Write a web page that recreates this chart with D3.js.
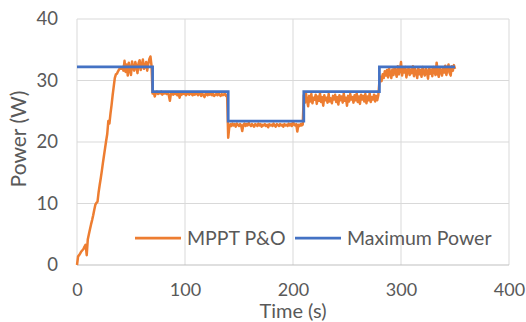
<!DOCTYPE html>
<html>
<head>
<meta charset="utf-8">
<script src="https://cdn.jsdelivr.net/npm/d3@7"></script>
<style>
  html, body { margin: 0; padding: 0; background: #fff; }
  text { font-family: Lato, "Open Sans", sans-serif; fill: #595959; }
</style>
</head>
<body>
<div id="chart"></div>
<script>
// x ticks / y ticks
const xTicks = [0, 100, 200, 300, 400];
const yTicks = [0, 10, 20, 30, 40];

// Maximum power reference (step levels)
const maxTimes = [0, 70, 140, 210, 280, 350];
const maxPower = [32.2, 28.2, 23.4, 28.2, 32.2, 32.2];

// MPPT P&O power, one sample per second from t = 0 s
const mpptStart = 0;
const mpptStep = 1;
const mpptPower = [
  // 0-43 ramp
  0, 1.4, 1.6, 1.9, 2.2, 2.4, 2.6, 3.0, 3.3, 1.6,
  4.2, 5.0, 5.8, 6.6, 7.3, 8.1, 9.0, 9.8, 10.1, 10.3,
  11.8, 13.0, 14.1, 15.3, 16.6, 17.8, 19.0, 20.2, 21.3, 23.4,
  23.0, 24.6, 26.0, 27.6, 29.0, 30.4, 31.0, 31.1, 31.5, 31.8,
  32.0, 31.9, 32.2, 31.6,
  // 44-69
  33.2, 31.4, 32.6, 30.8, 32.9, 31.8, 30.9, 33.1, 32.0, 31.6,
  33.0, 32.3, 31.2, 32.8, 33.3, 31.7, 32.5, 33.4, 31.9, 32.2,
  33.0, 31.6, 32.7, 33.5, 33.9, 32.4,
  // 70-139
  27.9, 28.1, 27.4, 28.0, 28.2, 27.8, 28.0, 27.9, 28.2, 27.7,
  28.0, 27.9, 28.1, 27.8, 28.0, 27.6, 26.7, 27.9, 28.0, 27.7,
  28.1, 27.8, 27.9, 27.6, 28.0, 27.2, 27.9, 27.7, 28.0, 27.8,
  27.9, 27.6, 28.0, 27.8, 27.7, 28.1, 27.8, 27.6, 27.9, 27.7,
  27.8, 28.0, 27.6, 27.8, 27.9, 27.5, 27.8, 27.7, 27.3, 27.8,
  27.9, 27.6, 27.8, 27.7, 28.0, 27.6, 27.8, 27.5, 27.7, 27.8,
  27.6, 27.9, 27.7, 27.5, 27.8, 27.6, 27.7, 27.9, 27.5, 27.6,
  // 140-209
  20.7, 22.4, 22.9, 22.6, 23.0, 22.7, 22.9, 22.5, 23.0, 22.8,
  22.6, 22.9, 22.7, 21.8, 22.8, 23.0, 22.6, 22.9, 22.7, 23.1,
  22.8, 22.6, 22.9, 22.7, 22.5, 22.9, 22.8, 22.6, 23.0, 22.7,
  22.9, 22.5, 22.8, 22.7, 22.9, 22.6, 22.8, 22.4, 22.9, 22.7,
  22.8, 22.6, 23.0, 22.7, 22.5, 22.9, 22.8, 22.6, 22.9, 22.7,
  22.8, 22.5, 22.9, 22.7, 22.8, 22.6, 23.0, 22.7, 22.9, 22.6,
  23.3, 22.8, 22.7, 22.9, 21.7, 22.8, 22.6, 22.9, 22.7, 22.8,
  // 210-279
  27.6, 26.4, 27.9, 26.8, 25.8, 27.5, 26.6, 27.8, 26.3, 27.2,
  26.9, 27.7, 26.2, 27.4, 26.7, 27.9, 26.5, 27.3, 25.9, 27.6,
  26.8, 27.2, 26.4, 27.8, 26.6, 27.1, 26.3, 27.5, 26.9, 27.7,
  26.5, 27.3, 26.1, 27.6, 26.8, 27.4, 26.4, 27.9, 26.7, 27.2,
  25.9, 27.5, 26.6, 27.8, 26.9, 27.3, 26.4, 27.6, 26.8, 27.9,
  26.5, 27.4, 26.2, 27.7, 26.9, 27.5, 26.6, 27.8, 26.3, 27.4,
  26.8, 27.9, 26.5, 27.3, 26.9, 27.7, 26.6, 27.5, 26.8, 27.6,
  // 280-350
  29.8, 30.6, 29.9, 31.0, 30.4, 31.5, 30.8, 31.7, 30.5, 32.0,
  31.2, 30.4, 31.8, 30.9, 32.1, 31.4, 30.6, 32.3, 31.0, 31.7,
  33.0, 30.8, 31.9, 31.3, 32.2, 30.5, 31.6, 32.0, 30.9, 31.8,
  31.2, 32.3, 30.7, 31.9, 31.4, 30.4, 32.1, 31.0, 31.7, 30.6,
  32.2, 31.3, 30.8, 31.9, 31.5, 30.3, 32.0, 31.1, 31.8, 30.7,
  32.2, 31.4, 30.9, 32.9, 31.2, 30.6, 32.1, 31.5, 30.8, 32.0,
  31.3, 32.4, 30.9, 31.8, 32.6, 31.2, 30.8, 32.3, 31.6, 32.5,
  31.9
];

const seriesNames = ["MPPT P&O", "Maximum Power"];
const seriesColors = ["#ED7D31", "#4472C4"];

const width = 526, height = 322;
const margin = {top: 19, right: 17, bottom: 57, left: 77};

const svg = d3.select("#chart").append("svg")
  .attr("width", width)
  .attr("height", height);

const x = d3.scaleLinear().domain([0, 400]).range([margin.left, width - margin.right]);
const y = d3.scaleLinear().domain([0, 40]).range([height - margin.bottom, margin.top]);

// gridlines
svg.append("g")
  .selectAll("line.v")
  .data(xTicks)
  .join("line")
  .attr("x1", d => x(d)).attr("x2", d => x(d))
  .attr("y1", y(0)).attr("y2", y(40))
  .attr("stroke", "#d9d9d9").attr("stroke-width", 1);

svg.append("g")
  .selectAll("line.h")
  .data(yTicks)
  .join("line")
  .attr("x1", x(0)).attr("x2", x(400))
  .attr("y1", d => y(d)).attr("y2", d => y(d))
  .attr("stroke", d => d === 0 ? "#bfbfbf" : "#d9d9d9").attr("stroke-width", 1);

// axes labels via d3 axes, domain removed
const xAxis = svg.append("g")
  .attr("transform", `translate(0, ${y(0)})`)
  .call(d3.axisBottom(x).tickValues(xTicks).tickSize(0).tickPadding(18));
xAxis.select(".domain").remove();
xAxis.selectAll("text").style("font-size", "18px").attr("fill", "#595959")
  .style("font-family", "Lato, 'Open Sans', sans-serif");

const yAxis = svg.append("g")
  .attr("transform", `translate(${x(0)}, 0)`)
  .call(d3.axisLeft(y).tickValues(yTicks).tickSize(0).tickPadding(19));
yAxis.select(".domain").remove();
yAxis.selectAll("text").style("font-size", "18.5px").attr("fill", "#595959")
  .style("font-family", "Lato, 'Open Sans', sans-serif");

// series
const mpptData = mpptPower.map((p, i) => ({t: mpptStart + i * mpptStep, p: p}));
const maxData = maxTimes.map((t, i) => ({t: t, p: maxPower[i]}));

const line = d3.line().x(d => x(d.t)).y(d => y(d.p));

svg.append("path")
  .datum(mpptData)
  .attr("fill", "none")
  .attr("stroke", seriesColors[0])
  .attr("stroke-width", 2.5)
  .attr("stroke-linejoin", "round")
  .attr("d", line);

svg.append("path")
  .datum(maxData)
  .attr("fill", "none")
  .attr("stroke", seriesColors[1])
  .attr("stroke-width", 2.75)
  .attr("d", line.curve(d3.curveStepAfter));

// axis titles
svg.append("text")
  .attr("x", (x(0) + x(400)) / 2)
  .attr("y", 318)
  .attr("text-anchor", "middle")
  .style("font-size", "20px")
  .text("Time (s)");

svg.append("text")
  .attr("transform", `translate(26, 139) rotate(-90)`)
  .attr("text-anchor", "middle")
  .style("font-size", "21px")
  .text("Power (W)");

// legend
const legendX = [135, 295];
const legend = svg.append("g");
seriesNames.forEach((name, i) => {
  const g = legend.append("g").attr("transform", `translate(${legendX[i]}, 238)`);
  g.append("line").attr("x1", 0).attr("x2", 46).attr("y1", 0).attr("y2", 0)
    .attr("stroke", seriesColors[i]).attr("stroke-width", 2.75);
  g.append("text").attr("x", 52).attr("y", 7).style("font-size", "19.5px").text(name);
});
</script>
</body>
</html>
